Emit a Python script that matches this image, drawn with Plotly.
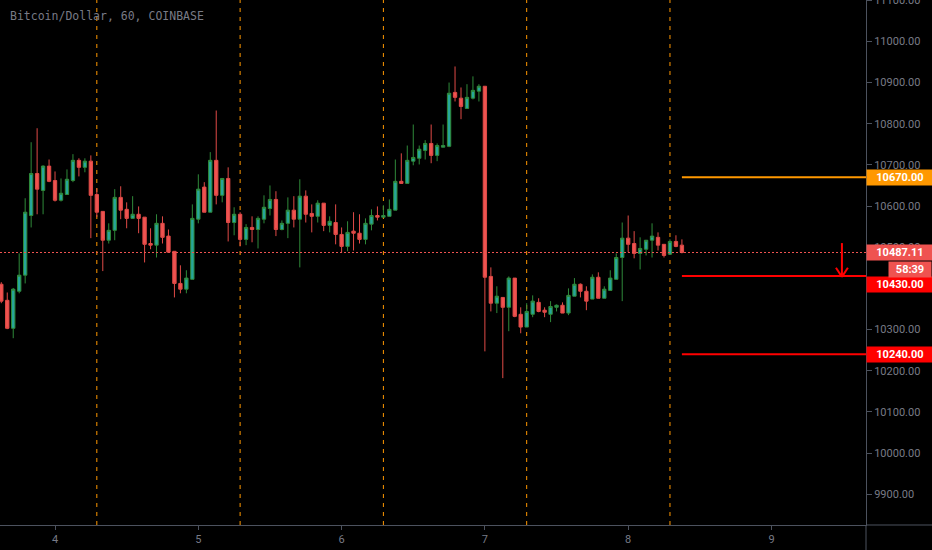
import plotly.graph_objects as go
import pandas as pd

# ---------------- data ----------------
start_time = "2019-09-03 15:00"
opens = [10410, 10371, 10303, 10393, 10432, 10577, 10679, 10638, 10697, 10662,
         10614, 10628, 10662, 10711, 10694, 10709, 10628, 10587, 10517, 10541,
         10621, 10592, 10570, 10580, 10573, 10509, 10505, 10558, 10527, 10490,
         10412, 10398, 10422, 10568, 10646, 10585, 10711, 10626, 10667, 10560,
         10580, 10519, 10548, 10543, 10568, 10594, 10616, 10543, 10558, 10590,
         10568, 10624, 10582, 10575, 10607, 10553, 10560, 10531, 10502, 10539,
         10534, 10519, 10556, 10577, 10573, 10575, 10590, 10660, 10655, 10709,
         10716, 10735, 10752, 10723, 10743, 10745, 10876, 10862, 10837, 10862,
         10879, 10891, 10429, 10364, 10378, 10354, 10425, 10337, 10306, 10337,
         10366, 10347, 10337, 10354, 10359, 10340, 10381, 10410, 10393, 10374,
         10427, 10376, 10395, 10422, 10475, 10522, 10509, 10485, 10495, 10517,
         10524, 10507, 10483, 10514, 10505]
highs = [10415, 10390, 10401, 10485, 10619, 10755, 10789, 10699, 10713, 10684,
         10667, 10689, 10726, 10716, 10716, 10723, 10643, 10587, 10558, 10641,
         10648, 10609, 10624, 10599, 10573, 10546, 10580, 10575, 10543, 10490,
         10456, 10444, 10604, 10677, 10658, 10731, 10832, 10667, 10694, 10597,
         10585, 10556, 10575, 10575, 10626, 10650, 10636, 10565, 10621, 10624,
         10665, 10638, 10604, 10614, 10607, 10575, 10604, 10548, 10563, 10585,
         10580, 10570, 10592, 10599, 10602, 10616, 10713, 10728, 10747, 10798,
         10747, 10760, 10798, 10752, 10798, 10900, 10939, 10888, 10896, 10915,
         10896, 10891, 10451, 10405, 10378, 10429, 10425, 10354, 10364, 10383,
         10376, 10354, 10369, 10361, 10366, 10400, 10425, 10412, 10405, 10434,
         10439, 10405, 10444, 10485, 10560, 10577, 10539, 10524, 10517, 10558,
         10536, 10507, 10519, 10529, 10519]
lows = [10364, 10301, 10279, 10388, 10412, 10548, 10580, 10580, 10658, 10611,
        10611, 10628, 10658, 10672, 10682, 10522, 10573, 10442, 10509, 10517,
        10568, 10546, 10570, 10534, 10463, 10495, 10475, 10509, 10488, 10378,
        10388, 10388, 10422, 10558, 10585, 10585, 10604, 10609, 10514, 10529,
        10502, 10505, 10512, 10497, 10558, 10577, 10527, 10541, 10522, 10548,
        10451, 10560, 10536, 10560, 10539, 10536, 10507, 10488, 10490, 10492,
        10509, 10507, 10541, 10565, 10573, 10575, 10590, 10655, 10655, 10699,
        10701, 10713, 10704, 10709, 10743, 10743, 10854, 10811, 10837, 10859,
        10854, 10247, 10344, 10340, 10182, 10296, 10330, 10291, 10306, 10330,
        10342, 10330, 10318, 10344, 10340, 10335, 10381, 10378, 10347, 10374,
        10376, 10376, 10395, 10422, 10369, 10488, 10473, 10446, 10480, 10475,
        10492, 10475, 10483, 10500, 10485]
closes = [10369, 10303, 10398, 10432, 10585, 10679, 10641, 10697, 10660, 10614,
          10631, 10665, 10711, 10694, 10709, 10626, 10585, 10517, 10541, 10621,
          10590, 10570, 10580, 10570, 10507, 10505, 10558, 10524, 10488, 10412,
          10398, 10425, 10570, 10641, 10585, 10711, 10626, 10667, 10560, 10580,
          10519, 10548, 10543, 10570, 10597, 10616, 10543, 10558, 10590, 10568,
          10624, 10580, 10575, 10607, 10553, 10563, 10531, 10502, 10536, 10534,
          10519, 10558, 10577, 10573, 10577, 10592, 10660, 10655, 10711, 10718,
          10738, 10752, 10723, 10747, 10747, 10874, 10864, 10842, 10864, 10881,
          10891, 10427, 10364, 10381, 10354, 10425, 10332, 10306, 10344, 10369,
          10344, 10342, 10356, 10359, 10340, 10383, 10410, 10393, 10369, 10427,
          10376, 10398, 10425, 10475, 10522, 10507, 10485, 10497, 10517, 10527,
          10505, 10480, 10514, 10502, 10487.11]

day_ticks = ["2019-09-04", "2019-09-05", "2019-09-06", "2019-09-07", "2019-09-08", "2019-09-09"]
day_labels = ["4", "5", "6", "7", "8", "9"]
session_lines = ["2019-09-04 07:00", "2019-09-05 07:00", "2019-09-06 07:00",
                 "2019-09-07 07:00", "2019-09-08 07:00"]
level_prices = [10670, 10430, 10240]
level_colors = ["#ff9800", "#ff0000", "#ff0000"]
level_label_shift = [0, -8, 0]
y_ticks = [9900, 10000, 10100, 10200, 10300, 10400, 10500, 10600, 10700, 10800, 10900, 11000, 11100]
title_text = "Bitcoin/Dollar, 60, COINBASE"
countdown_text = "58:39"
arrow_time = "2019-09-09 11:48"
arrow_top = 10510
arrow_bottom = 10428
arrow_wing = 10450

x_range = ["2019-09-03 14:47", "2019-09-09 15:50"]
y_range = [9825.2, 11100.5]

times = pd.date_range(start_time, periods=len(opens), freq="h")
last_price = closes[-1]

# ---------------- style ----------------
axis_col = "#4c525e"
text_col = "#787b86"
up_fill, up_line = "#26a69a", "#2f8a3a"
dn_fill, dn_line = "#ef5350", "#e04a47"

fig = go.Figure()
fig.add_trace(go.Candlestick(
    x=times, open=opens, high=highs, low=lows, close=closes,
    increasing=dict(fillcolor=up_fill, line=dict(color=up_line, width=1)),
    decreasing=dict(fillcolor=dn_fill, line=dict(color=dn_line, width=1)),
    whiskerwidth=0, showlegend=False, hoverinfo="skip",
))

shapes = []
for t in session_lines:
    shapes.append(dict(type="line", xref="x", yref="paper", x0=t, x1=t, y0=0, y1=1,
                       line=dict(color="#ff9800", width=1, dash="4px,5px"), layer="below"))
# current price dotted line
shapes.append(dict(type="line", xref="x", yref="y", x0=x_range[0], x1=x_range[1],
                   y0=last_price, y1=last_price,
                   line=dict(color="#ef5350", width=1, dash="2px,2px")))
# level lines
for p, c in zip(level_prices, level_colors):
    shapes.append(dict(type="line", xref="x", yref="y", x0=times[-1], x1=x_range[1],
                       y0=p, y1=p, line=dict(color=c, width=2)))
# arrow
arrow_t = pd.Timestamp(arrow_time)
one_h = pd.Timedelta(hours=1)
shapes.append(dict(type="line", xref="x", yref="y", x0=arrow_t, x1=arrow_t,
                   y0=arrow_top, y1=arrow_bottom, line=dict(color="#ff0000", width=2)))
for dx in (-one_h, one_h):
    shapes.append(dict(type="line", xref="x", yref="y", x0=arrow_t + dx, x1=arrow_t,
                       y0=arrow_wing, y1=arrow_bottom, line=dict(color="#ff0000", width=2)))
# axis extensions
shapes.append(dict(type="line", xref="paper", yref="paper", x0=1, x1=932 / 866, y0=0, y1=0,
                   line=dict(color=axis_col, width=1)))
shapes.append(dict(type="line", xref="paper", yref="paper", x0=1, x1=1, y0=0, y1=-25 / 525,
                   line=dict(color=axis_col, width=1)))

annotations = [dict(
    x=8 / 866, y=(525 - 16) / 525, xref="paper", yref="paper", xanchor="left", yanchor="middle",
    text=title_text, showarrow=False,
    font=dict(family="DejaVu Sans Mono", size=11.5, color=text_col))]

lab_font = dict(family="Roboto", size=11, color="white")
for p, c, sh in zip(level_prices, level_colors, level_label_shift):
    annotations.append(dict(x=1, xref="paper", xanchor="left", y=p, yref="y", yanchor="middle",
                            yshift=sh, text=f"<b>{p:.2f}</b>", showarrow=False, bgcolor=c,
                            font=lab_font, width=62, height=11, borderpad=2, align="center"))
annotations.append(dict(x=1, xref="paper", xanchor="left", y=last_price, yref="y", yanchor="middle",
                        text=f"<b>{last_price:.2f}</b>", showarrow=False, bgcolor="#ef5350",
                        font=lab_font, width=62, height=11, borderpad=2, align="center"))
annotations.append(dict(x=932 / 866, xref="paper", xanchor="right", y=last_price, yref="y",
                        yanchor="middle", yshift=-17, text=f"<b>{countdown_text}</b>",
                        showarrow=False, bgcolor="#ef5350", font=lab_font,
                        width=38, height=11, borderpad=2, align="center"))

fig.update_layout(
    width=932, height=550,
    margin=dict(l=0, r=66, t=0, b=25, pad=0, autoexpand=False),
    paper_bgcolor="#000000", plot_bgcolor="#000000",
    boxgap=0.2,
    shapes=shapes, annotations=annotations,
    showlegend=False,
    xaxis=dict(type="date", range=x_range, rangeslider=dict(visible=False),
               showgrid=False, zeroline=False, tickmode="array",
               tickvals=day_ticks, ticktext=day_labels,
               ticks="outside", ticklen=4, tickcolor=axis_col,
               showline=True, linecolor=axis_col, linewidth=1, automargin=False,
               tickfont=dict(family="Roboto", size=11, color=text_col)),
    yaxis=dict(side="right", range=y_range, showgrid=False, zeroline=False,
               tickmode="array", tickvals=y_ticks, ticktext=[f"{v:.2f}" for v in y_ticks],
               ticks="outside", ticklen=5, tickcolor=axis_col,
               showline=True, linecolor=axis_col, linewidth=1, automargin=False,
               ticklabeloverflow="allow",
               tickfont=dict(family="Roboto", size=11, color=text_col)),
)

fig.write_html("out.html", config={"displayModeBar": False},
               post_script="document.body.style.margin='0';document.body.style.background='#000';")
